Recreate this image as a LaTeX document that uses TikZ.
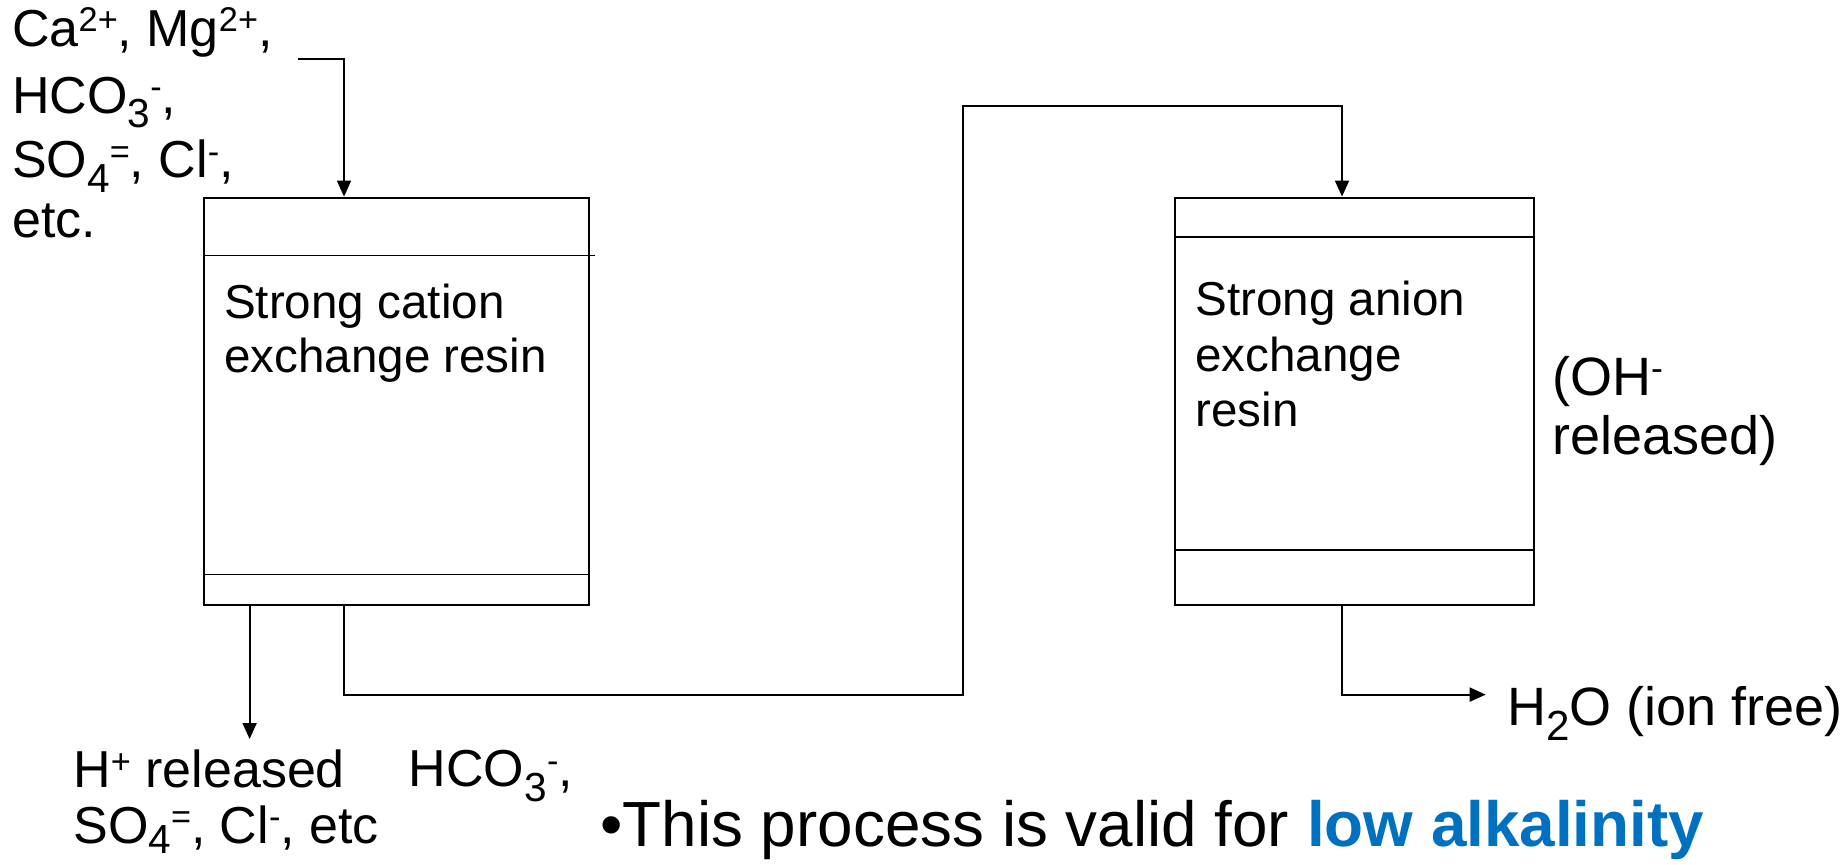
\documentclass[tikz,border=0pt]{standalone}
\usepackage{fontspec}
\setmainfont{Liberation Sans}
\usetikzlibrary{arrows.meta}
\definecolor{accentblue}{HTML}{0070C0}
\newcommand\mysup[1]{\raisebox{0.27em}{\scalebox{0.66}{#1}}}
\newcommand\mysub[1]{\raisebox{-0.28em}{\scalebox{0.78}{#1}}}
\newcommand\mysubb[1]{\raisebox{-0.2em}{\scalebox{0.78}{#1}}}
\tikzset{
  boxtxt/.style={anchor=base west, inner sep=0pt, font=\fontsize{23.8}{27}\selectfont},
  lbl/.style={anchor=base west, inner sep=0pt, font=\fontsize{26}{30}\selectfont},
  sidelbl/.style={anchor=base west, inner sep=0pt, font=\fontsize{27}{31}\selectfont},
  big/.style={anchor=base west, inner sep=0pt, font=\fontsize{31.9}{36}\selectfont},
  vessel/.style={draw, line width=1pt, anchor=north west, inner sep=0pt},
  pipe/.style={line width=0.9pt},
  flow/.style={pipe, -{Triangle[length=8pt,width=7pt]}},
}
\begin{document}
\begin{tikzpicture}[x=0.5pt,y=-0.5pt]
\useasboundingbox (0,0) rectangle (1846,864);
% vessels
\node[vessel, minimum width=192.5pt, minimum height=203.7pt] (cation) at (202.5,196.6) {};
\node[vessel, minimum width=179.5pt, minimum height=203.7pt] (anion) at (1173.8,196.6) {};
\draw[pipe] (202.5,255.5) -- (594.5,255.5);
\draw[pipe] (202.5,574.5) -- (587.5,574.5);
\draw[pipe] (1173.8,236.6) -- (1532.8,236.6);
\draw[pipe] (1173.8,549.8) -- (1532.8,549.8);
% coordinates
\coordinate (inA) at (298,59);
\coordinate (cationIn) at (344,196.6);
\coordinate (cOut1) at (249.6,604);
\coordinate (hOut) at (249.6,739);
\coordinate (cOut2) at (343.8,604);
\coordinate (low) at (963,694.6);
\coordinate (high) at (963,106);
\coordinate (anionIn) at (1342,196.6);
\coordinate (aOut) at (1342,604);
\coordinate (wOut) at (1485.7,694.6);
% connectors
\draw[flow] (inA) -| (cationIn);
\draw[flow] (cOut1) -- (hOut);
\draw[flow] (cOut2) |- (low) -- (high) -| (anionIn);
\draw[flow] (aOut) |- (wOut);
% texts
\node[lbl] (t1) at (11.8,46) {Ca\mysup{2+}, Mg\mysup{2+},};
\node[lbl] (t2) at (11.8,113) {HCO\mysub{3}\mysup{-},};
\node[lbl] (t3) at (11.8,177.5) {SO\mysub{4}\mysup{=}, Cl\mysup{-},};
\node[lbl] (t4) at (11.8,237.5) {etc.};
\node[boxtxt] (c1) at (223.7,318.5) {Strong cation};
\node[boxtxt] (c2) at (223.7,372) {exchange resin};
\node[boxtxt] (a1) at (1195,315.5) {Strong anion};
\node[boxtxt] (a2) at (1195,371) {exchange};
\node[boxtxt] (a3) at (1195,426) {resin};
\node[sidelbl] (o1) at (1551.7,395) {(OH\mysup{-}};
\node[sidelbl] (o2) at (1551.7,454) {released)};
\node[sidelbl] (w1) at (1507,725) {H\mysub{2}O (ion free)};
\node[lbl] (h1) at (73,787.5) {H\mysup{+} released};
\node[lbl] (h2) at (408.5,786.5) {HCO\mysub{3}\mysup{-},};
\node[lbl] (h3) at (73,843) {SO\mysubb{4}\mysup{=}, Cl\mysup{-}, etc};
\node[big] (note) at (600,846) {•This process is valid for \textcolor{accentblue}{\bfseries low alkalinity}};
\end{tikzpicture}
\end{document}
